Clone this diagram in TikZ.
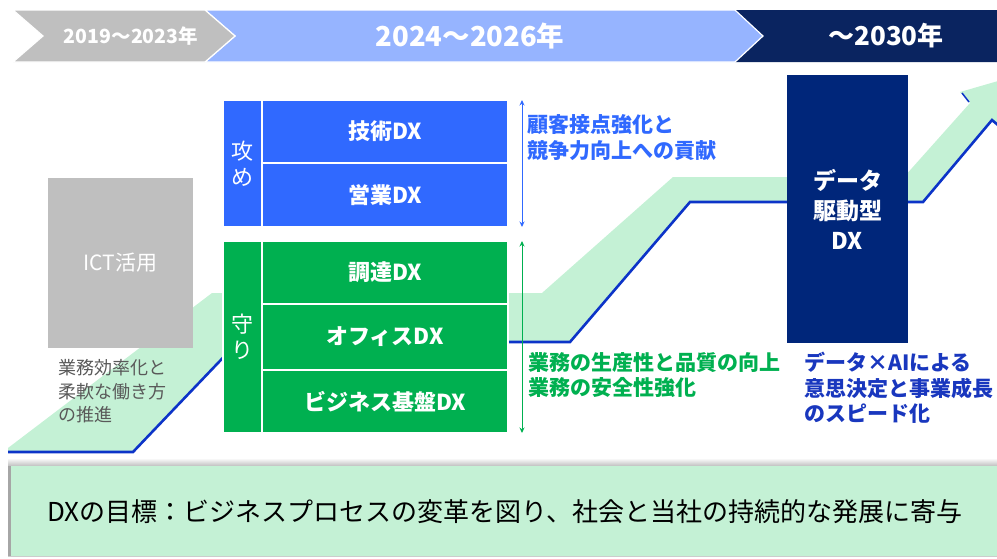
\documentclass[tikz,border=0pt]{standalone}
\usepackage{fontspec}
\setmainfont{Noto Sans CJK JP}
\usetikzlibrary{arrows.meta}
\definecolor{bandgreen}{RGB}{196,241,213}
\definecolor{lineblue}{RGB}{12,52,200}
\definecolor{attblue}{RGB}{48,105,255}
\definecolor{defgreen}{RGB}{0,176,80}
\definecolor{navybox}{RGB}{0,38,122}
\definecolor{chevgray}{RGB}{191,191,191}
\definecolor{chevblue}{RGB}{150,180,255}
\definecolor{chevnavy}{RGB}{10,36,96}
\definecolor{notegray}{RGB}{89,89,89}
\definecolor{notenavy}{RGB}{25,55,190}
\tikzset{
  chev/.style={draw=white, line width=1.2pt},
  chevtxt/.style={text=white, inner sep=0pt},
  cell/.style={draw=white, line width=1.3pt, inner sep=0pt, text=white, font=\bfseries\fontsize{22}{26}\selectfont},
  sidecell/.style={draw=white, line width=1.3pt, inner sep=0pt, text=white, align=center, font=\fontsize{22}{26}\selectfont},
  note/.style={inner sep=0pt, align=left, anchor=west, font=\bfseries\fontsize{21}{25.5}\selectfont},
  span/.style={{Stealth[length=5.5pt,width=5pt]}-{Stealth[length=5.5pt,width=5pt]}, line width=0.9pt},
}
\begin{document}
\begin{tikzpicture}[x=1pt,y=-1pt]
\useasboundingbox (0,0) rectangle (997,558);
% ---- top chevrons
\fill[chevnavy] (735,10) -- (997,10) -- (997,62) -- (735,62) -- (763,36) -- cycle;
\filldraw[chev, fill=chevblue] (205,10) -- (735,10) -- (763,36) -- (735,62) -- (205,62) -- (235,36) -- cycle;
\filldraw[chev, fill=chevgray] (13,10) -- (205,10) -- (235,36) -- (205,62) -- (13,62) -- (43,36) -- cycle;
\node[chevtxt, font=\bfseries\fontsize{19.5}{22}\selectfont] (p1) at (131,36) {2019～2023年};
\node[chevtxt, font=\bfseries\fontsize{27.5}{30}\selectfont] (p2) at (470,36) {2024～2026年};
\node[chevtxt, font=\bfseries\fontsize{26}{30}\selectfont] (p3) at (886,36) {～2030年};
% ---- green band and blue line
\begin{scope}
\clip (0,0) rectangle (997,558);
\fill[bandgreen] (8,452) -- (133,452) -- (238,342) -- (570,342) -- (690,202) -- (923,202) -- (992,120)
  -- (1012,137) -- (1050,66) -- (960,92) -- (970,103) -- (904,177) -- (673,177) -- (542,293)
  -- (212,293) -- (8,448) -- cycle;
\draw[lineblue, line width=2.6pt, line join=miter] (8,452) -- (133,452) -- (238,342) -- (570,342)
  -- (690,202) -- (923,202) -- (992,120) -- (1012,137);
\draw[lineblue, line width=1.5pt] (962,93) -- (969,102);
\end{scope}
% ---- ICT box
\node[fill=chevgray, minimum width=145pt, minimum height=170pt, inner sep=0pt, text=white,
  font=\fontsize{21}{24}\selectfont] (ict) at (120.5,263) {ICT活用};
\node[note, font=\fontsize{18}{23.5}\selectfont, text=notegray] (ictnote) at (58,391.5)
  {業務効率化と\\柔軟な働き方\\の推進};
% ---- attack group
\node[sidecell, fill=attblue, minimum width=39pt, minimum height=127pt] (seme) at (242.5,163.5) {攻\\め};
\node[cell, fill=attblue, minimum width=246pt, minimum height=63pt] (gijutsu) at (385,131.5) {技術DX};
\node[cell, fill=attblue, minimum width=246pt, minimum height=64pt] (eigyo) at (385,195) {営業DX};
% ---- defence group
\node[sidecell, fill=defgreen, minimum width=39pt, minimum height=192pt] (mamori) at (242.5,337) {守\\り};
\node[cell, fill=defgreen, minimum width=246pt, minimum height=63pt] (chotatsu) at (385,272.5) {調達DX};
\node[cell, fill=defgreen, minimum width=246pt, minimum height=66pt] (office) at (385,337) {オフィスDX};
\node[cell, fill=defgreen, minimum width=246pt, minimum height=63pt] (kiban) at (385,401.5) {ビジネス基盤DX};
% ---- span arrows
\coordinate (b1) at (522,100);
\coordinate (b2) at (522,227);
\coordinate (g1) at (522,241);
\coordinate (g2) at (522,433);
\draw[span, attblue] (b1) -- (b2);
\draw[span, defgreen] (g1) -- (g2);
\node[note, text=attblue] (attnote) at (527,137.5) {顧客接点強化と\\競争力向上への貢献};
\node[note, text=defgreen] (defnote) at (528,375) {業務の生産性と品質の向上\\業務の安全性強化};
% ---- data driven DX
\node[fill=navybox, minimum width=121pt, minimum height=268pt, inner sep=0pt, text=white, align=center,
  font=\bfseries\fontsize{23}{30}\selectfont] (datadx) at (847.5,209) {データ\\駆動型\\DX};
\node[note, text=notenavy] (datanote) at (804,388) {データ×AIによる\\意思決定と事業成長\\のスピード化};
% ---- bottom goal banner
\shade[top color=white, bottom color=black!25] (8,458) rectangle (997,466);
\fill[bandgreen] (8,466) rectangle (997,556);
\draw[black!35, line width=3pt] (9.5,466) -- (9.5,556);
\draw[black!20, line width=1pt] (8,556.5) -- (997,556.5);
\node[inner sep=0pt, text=black, font=\fontsize{26}{30}\selectfont] (goal) at (505,512)
  {DXの目標：ビジネスプロセスの変革を図り、社会と当社の持続的な発展に寄与};
\end{tikzpicture}
\end{document}
